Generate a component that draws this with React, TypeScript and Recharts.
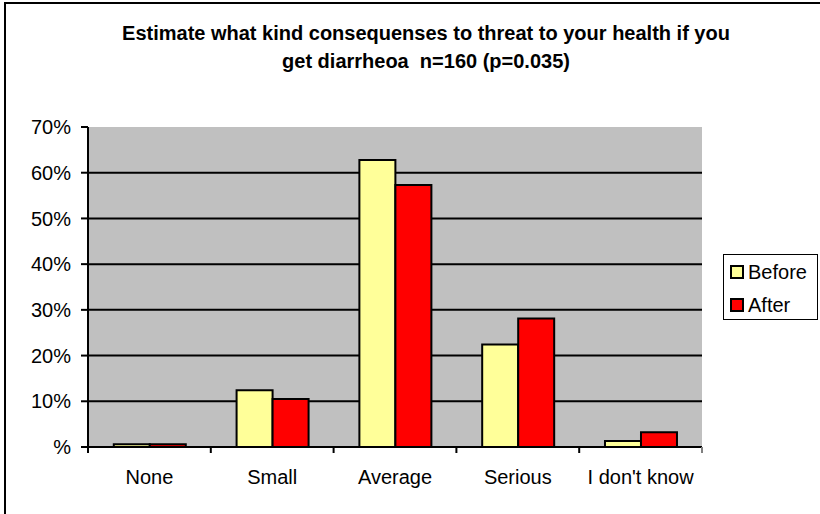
import React from 'react';
import {
  BarChart,
  Bar,
  XAxis,
  YAxis,
  CartesianGrid,
  Legend,
} from 'recharts';

const categories = ['None', 'Small', 'Average', 'Serious', "I don't know"];
const beforeValues = [0.6, 12.4, 62.8, 22.4, 1.3];
const afterValues = [0.6, 10.5, 57.3, 28.1, 3.2];
const yTicks = [0, 10, 20, 30, 40, 50, 60, 70];
const titleLines = [
  'Estimate what kind consequenses to threat to your health if you',
  'get diarrheoa  n=160 (p=0.035)',
];

const colors = {
  before: '#FFFF99',
  after: '#FF0000',
  plot: '#C0C0C0',
  frame: '#808080',
  ink: '#000000',
};

const W = 820;
const H = 514;
const PLOT_LEFT = 88;
const PLOT_RIGHT = 702;
const PLOT_W = PLOT_RIGHT - PLOT_LEFT;
const FONT = '"Liberation Sans", Arial, sans-serif';

const data = categories.map((name, i) => ({
  name,
  before: beforeValues[i],
  after: afterValues[i],
}));

// category label plus tick marks on the band edges (Excel style)
function CategoryTick(props: any) {
  const { x, y, payload, index } = props;
  const half = PLOT_W / categories.length / 2;
  const axisY = y - 8;
  return (
    <g>
      <line x1={x - half} x2={x - half} y1={axisY} y2={axisY + 6} stroke={colors.ink} strokeWidth={2} />
      {index === categories.length - 1 && (
        <line x1={x + half} x2={x + half} y1={axisY} y2={axisY + 6} stroke={colors.frame} strokeWidth={2} />
      )}
      <text x={x} y={y} dy={29} textAnchor="middle" fill={colors.ink} fontSize={20} fontFamily={FONT}>
        {payload.value}
      </text>
    </g>
  );
}

function LegendBox() {
  const items = [
    { label: 'Before', color: colors.before },
    { label: 'After', color: colors.after },
  ];
  return (
    <div
      style={{
        width: 95,
        height: 66,
        boxSizing: 'border-box',
        border: '1px solid #000',
        background: '#fff',
        paddingTop: 0,
        fontFamily: FONT,
        fontSize: 20,
        color: '#000',
        textAlign: 'left',
      }}
    >
      {items.map((it) => (
        <div key={it.label} style={{ display: 'flex', alignItems: 'center', height: 33, paddingLeft: 6 }}>
          <span
            style={{
              display: 'inline-block',
              width: 10,
              height: 10,
              border: '2px solid #000',
              background: it.color,
              marginRight: 4,
            }}
          />
          <span style={{ lineHeight: '20px' }}>{it.label}</span>
        </div>
      ))}
    </div>
  );
}

export default function App() {
  return (
    <div
      style={{
        position: 'absolute',
        left: 0,
        top: 0,
        width: W,
        height: H,
        overflow: 'hidden',
        background: '#fff',
        fontFamily: FONT,
      }}
    >
      <div
        style={{
          position: 'absolute',
          left: 4,
          top: 2,
          width: W + 20,
          height: H + 20,
          border: '2px solid #000',
        }}
      />
      <div
        style={{
          position: 'absolute',
          left: 0,
          top: 19,
          width: 852,
          textAlign: 'center',
          fontWeight: 'bold',
          fontSize: 20,
          lineHeight: '28px',
          color: '#000',
        }}
      >
        {titleLines.map((t) => (
          <div key={t} style={{ whiteSpace: 'pre' }}>{t}</div>
        ))}
      </div>
      <BarChart
        width={W}
        height={H}
        data={data}
        margin={{ top: 127, right: W - PLOT_RIGHT, bottom: 37, left: PLOT_LEFT - 60 }}
        barCategoryGap="21%"
        barGap={0}
        style={{ position: 'absolute', left: 0, top: 0 }}
      >
        <CartesianGrid
          vertical={false}
          horizontalValues={[10, 20, 30, 40, 50, 60]}
          stroke={colors.ink}
          strokeWidth={2}
          fill={colors.plot}
          fillOpacity={1}
        />
        <XAxis
          dataKey="name"
          height={30}
          tickLine={false}
          tickSize={6}
          tickMargin={2}
          axisLine={{ stroke: colors.ink, strokeWidth: 2 }}
          tick={<CategoryTick />}
          interval={0}
        />
        <XAxis
          xAxisId="top"
          dataKey="name"
          orientation="top"
          height={0}
          tick={false}
          tickLine={false}
          axisLine={{ stroke: colors.frame, strokeWidth: 2 }}
        />
        <YAxis
          width={60}
          domain={[0, 70]}
          ticks={yTicks}
          interval={0}
          tickSize={7}
          tickMargin={10}
          tickLine={{ stroke: colors.ink, strokeWidth: 2 }}
          axisLine={{ stroke: colors.ink, strokeWidth: 2 }}
          tick={{ fill: colors.ink, fontSize: 20, fontFamily: FONT }}
          tickFormatter={(v) => (v === 0 ? '%' : `${v}%`)}
        />
        <YAxis
          yAxisId="right"
          orientation="right"
          width={0}
          domain={[0, 70]}
          tick={false}
          tickLine={false}
          axisLine={{ stroke: colors.frame, strokeWidth: 2 }}
        />
        <Legend
          layout="horizontal"
          verticalAlign="middle"
          align="center"
          content={<LegendBox />}
          wrapperStyle={{ position: 'absolute', left: 723, top: 254, width: 95, height: 66 }}
        />
        <Bar
          dataKey="before"
          name="Before"
          fill={colors.before}
          stroke={colors.ink}
          strokeWidth={2}
          isAnimationActive={false}
        />
        <Bar
          dataKey="after"
          name="After"
          fill={colors.after}
          stroke={colors.ink}
          strokeWidth={2}
          isAnimationActive={false}
        />
      </BarChart>
    </div>
  );
}
